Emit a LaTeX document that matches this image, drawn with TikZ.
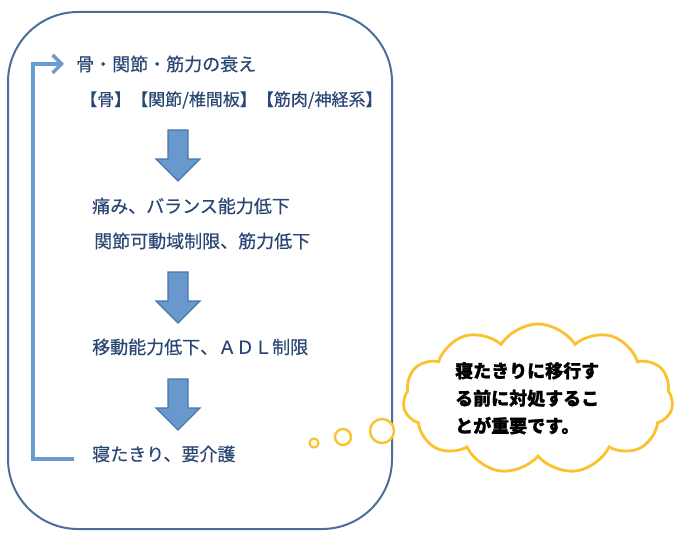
\documentclass[tikz,border=0pt]{standalone}
\usepackage{fontspec}
\setmainfont{Noto Sans CJK JP}[UprightFeatures={FakeBold=0.4}, BoldFeatures={FakeBold=1.2}]
\usetikzlibrary{shapes.symbols,arrows.meta}
\definecolor{frame}{HTML}{4C6F99}
\definecolor{txt}{HTML}{2A4774}
\definecolor{loopc}{HTML}{6A9BD0}
\definecolor{barrowfill}{HTML}{6898CC}
\definecolor{barrowline}{HTML}{4A77AA}
\definecolor{cloudc}{HTML}{F9C22E}
\tikzset{
  lbl/.style={anchor=west, text=txt, font=\fontsize{18}{20}\selectfont, inner sep=0pt},
  barrow/.style={fill=barrowfill, draw=barrowline, line width=1.2pt, line join=miter},
  bubble/.style={draw=cloudc, line width=2.8pt, fill=white},
}
\begin{document}
\begin{tikzpicture}[x=1pt,y=-1pt]
\useasboundingbox (0,0) rectangle (700,556);
\draw[frame, line width=2pt, rounded corners=70pt] (8,12) rectangle (392,529);
% texts
\node[lbl] (t1) at (76,64) {骨・関節・筋力の衰え};
\node[lbl, font=\fontsize{17}{20}\selectfont] (t2) at (80,100) {【骨】【関節/椎間板】【筋肉/神経系】};
\node[lbl] (t3) at (92,206) {痛み、バランス能力低下};
\node[lbl] (t4) at (94,241) {関節可動域制限、筋力低下};
\node[lbl] (t5) at (92,347) {移動能力低下、ＡＤＬ制限};
\node[lbl] (t6) at (92,454) {寝たきり、要介護};
% block arrows
\foreach \yt/\name in {130/a1, 272/a2, 379/a3}{
  \draw[barrow] (168,\yt) -- (188,\yt) -- (188,\yt+29) -- (200,\yt+29) -- (178,\yt+51) -- (156,\yt+29) -- (168,\yt+29) -- cycle;
}
% loop arrow
\coordinate (lb) at (74,459);
\coordinate (lc1) at (33,459);
\coordinate (lc2) at (33,64);
\coordinate (lt) at (64,64);
\draw[loopc, line width=3.6pt, -{Straight Barb[length=9pt,width=18pt,line width=3.4pt]}] (lb) -- (lc1) -- (lc2) -- (lt);
% cloud
\node[bubble, cloud, cloud puffs=11, cloud puff arc=115, aspect=1.9, minimum width=270pt, minimum height=150pt, inner sep=0pt] (cl) at (538,399) {};
\node[anchor=north west, align=left, font=\bfseries\fontsize{18}{27.5}\selectfont, text=black, inner sep=0pt] (ct) at (455,362) {寝たきりに移行す\\る前に対処するこ\\とが重要です。};
\node[draw=cloudc, line width=2.4pt, circle, minimum size=24pt, inner sep=0pt, fill=white] (c3) at (382,431) {};
\node[draw=cloudc, line width=2.4pt, circle, minimum size=16pt, inner sep=0pt] (c2) at (343,437) {};
\node[draw=cloudc, line width=2.2pt, circle, minimum size=9pt, inner sep=0pt] (c1) at (314,443) {};
\end{tikzpicture}
\end{document}
